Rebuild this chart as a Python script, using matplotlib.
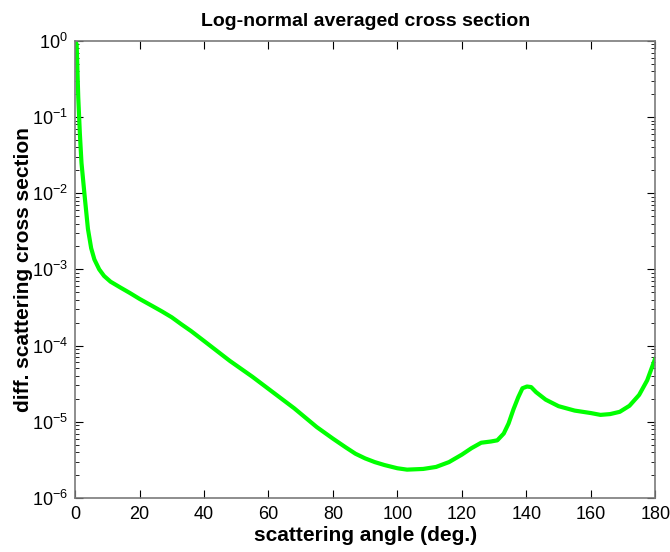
import numpy as np
import matplotlib
matplotlib.use("Agg")
import matplotlib.pyplot as plt
from matplotlib.ticker import LogLocator

plt.rcParams['font.family'] = ['Liberation Sans', 'DejaVu Sans']
plt.rcParams['mathtext.fontset'] = 'custom'
plt.rcParams['mathtext.rm'] = 'Liberation Sans'
plt.rcParams['mathtext.it'] = 'Liberation Sans'
plt.rcParams['mathtext.bf'] = 'Liberation Sans:bold'

# scattering angle (deg.)
angle = [0, 0.5, 1, 1.5, 2, 3, 4, 5, 6, 7.5, 9, 11, 14, 17, 20, 24, 27, 30, 33,
         36, 40, 48, 55, 60, 68, 75, 80, 84, 87, 90, 93, 96, 100, 103, 108,
         112, 116, 120, 123, 126, 129, 131, 133, 134.5, 136, 137.5, 138.8,
         140.2, 141.5, 143, 146, 150, 155, 160, 163, 166, 169, 172, 175,
         177.5, 180]
# diff. scattering cross section
sigma = [1.0, 0.9, 0.18, 0.06, 0.025, 9.0e-3, 3.4e-3, 1.9e-3, 1.35e-3,
         1.0e-3, 8.2e-4, 6.9e-4, 5.8e-4, 4.9e-4, 4.1e-4, 3.3e-4, 2.8e-4,
         2.35e-4, 1.9e-4, 1.55e-4, 1.15e-4, 6.3e-5, 3.9e-5, 2.7e-5, 1.5e-5,
         8.5e-6, 6.0e-6, 4.6e-6, 3.8e-6, 3.3e-6, 2.95e-6, 2.7e-6, 2.45e-6,
         2.35e-6, 2.4e-6, 2.55e-6, 2.95e-6, 3.7e-6, 4.5e-6, 5.3e-6, 5.5e-6,
         5.7e-6, 7.0e-6, 9.5e-6, 1.45e-5, 2.1e-5, 2.75e-5, 2.9e-5, 2.85e-5,
         2.45e-5, 1.95e-5, 1.6e-5, 1.4e-5, 1.3e-5, 1.23e-5, 1.26e-5, 1.35e-5,
         1.62e-5, 2.25e-5, 3.5e-5, 6.8e-5]

xticks = [0, 20, 40, 60, 80, 100, 120, 140, 160, 180]

fig = plt.figure(figsize=(6.7, 5.52), dpi=100)
ax = fig.add_axes([0.112, 0.098, 0.866, 0.828])

ax.semilogy(angle, sigma, color='#00ff00', linewidth=3,
            solid_capstyle='round', solid_joinstyle='round')

ax.set_xlim(0, 180)
ax.set_ylim(1e-6, 1e0)
ax.set_xticks(xticks)
ax.yaxis.set_major_locator(LogLocator(base=10, numticks=10))
ax.yaxis.set_minor_locator(LogLocator(base=10, subs=np.arange(2, 10), numticks=100))

ax.tick_params(axis='both', which='both', direction='in', top=True, right=True,
               labelsize=13, color='black')
ax.tick_params(which='major', length=6, width=0.8)
ax.tick_params(which='minor', length=3, width=0.6)
ax.tick_params(axis='x', pad=6)
ax.tick_params(axis='y', pad=5)
for s in ax.spines.values():
    s.set_color('#7a7a7a')
    s.set_linewidth(1.2)

ax.set_title('Log-normal averaged cross section', fontsize=14, fontweight='bold', pad=11)
ax.set_xlabel('scattering angle (deg.)', fontsize=15, fontweight='bold', labelpad=2)
ax.set_ylabel('diff. scattering cross section', fontsize=15, fontweight='bold', labelpad=-1)

fig.savefig('out.png', dpi=100)
